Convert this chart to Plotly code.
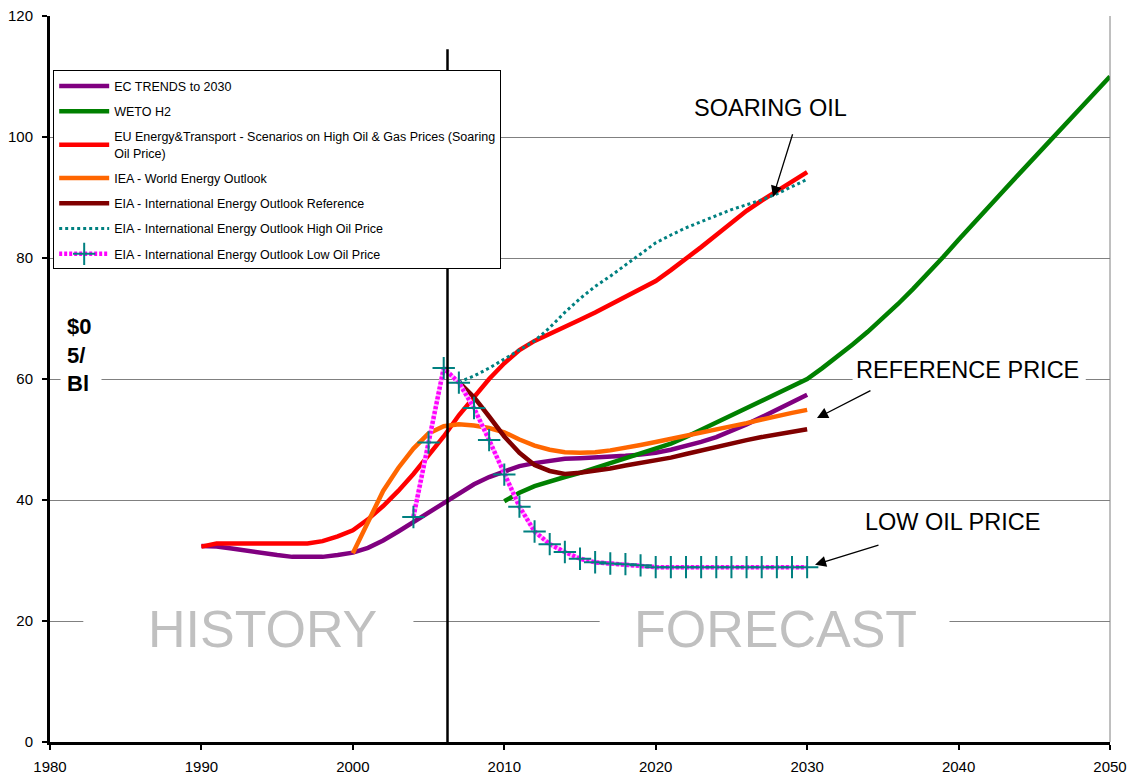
import plotly.graph_objects as go

FONT = "Liberation Sans, Arial, sans-serif"

# ---- series data (US$ 2005 per barrel) ----
ec_years = list(range(1990, 2031))
ec_vals = [32.4, 32.3, 32.0, 31.6, 31.2, 30.9, 30.6, 30.6, 30.6, 30.9,
           31.3, 32.1, 33.3, 34.8, 36.4, 38.0, 39.6, 41.0, 42.6, 43.8,
           44.8, 45.6, 46.1, 46.5, 46.8, 46.9, 47.0, 47.1, 47.3, 47.5,
           47.8, 48.3, 48.9, 49.6, 50.4, 51.4, 52.5, 53.7, 55.0, 56.2, 57.4]

weto_years = list(range(2010, 2051))
weto_vals = [39.8, 41.2, 42.3, 43.1, 43.8, 44.5, 45.3, 46.0, 46.8, 47.6,
             48.4, 49.3, 50.4, 51.6, 52.8, 54.0, 55.2, 56.4, 57.6, 58.7,
             60.0, 61.8, 63.7, 65.7, 67.8, 70.0, 72.4, 74.9, 77.5, 80.2,
             83.0, 85.8, 88.5, 91.2, 93.9, 96.6, 99.3, 102.0, 104.7, 107.4, 110.0]

eu_years = list(range(1990, 2031))
eu_vals = [32.3, 32.8, 32.8, 32.8, 32.8, 32.8, 32.8, 32.8, 33.2, 34.0,
           35.0, 36.8, 39.0, 41.5, 44.3, 47.4, 50.5, 54.0, 57.0, 60.0,
           62.6, 64.8, 66.3, 67.4, 68.6, 69.8, 71.0, 72.3, 73.5, 74.8,
           76.2, 78.0, 79.8, 81.8, 83.8, 85.8, 87.8, 89.5, 91.0, 92.5, 94.2]

iea_years = list(range(2000, 2031))
iea_vals = [31.2, 36.5, 41.5, 45.3, 48.5, 51.0, 52.2, 52.5, 52.3, 51.9,
            51.2, 50.0, 49.0, 48.3, 47.9, 47.8, 47.9, 48.2, 48.6, 49.1,
            49.6, 50.1, 50.6, 51.1, 51.6, 52.2, 52.7, 53.3, 53.9, 54.4, 54.9]

eia_ref_years = list(range(2007, 2031))
eia_ref_vals = [59.5, 57.0, 53.8, 50.5, 47.8, 45.8, 44.8, 44.3, 44.5, 44.8,
                45.2, 45.7, 46.1, 46.5, 47.0, 47.6, 48.2, 48.8, 49.4, 49.9,
                50.4, 50.8, 51.2, 51.7]

eia_high_years = list(range(2007, 2031))
eia_high_vals = [59.5, 60.5, 61.8, 63.3, 64.8, 66.3, 68.5, 71.0, 73.3, 75.3,
                 77.0, 78.8, 80.6, 82.5, 83.8, 85.0, 86.0, 87.0, 88.0, 88.8,
                 89.6, 90.6, 91.8, 93.0]

eia_low_years = list(range(2004, 2031))
eia_low_vals = [37.2, 49.5, 61.8, 59.4, 55.2, 49.9, 44.2, 38.9, 34.8, 32.7,
                31.4, 30.3, 29.7, 29.5, 29.4, 29.2, 28.9, 28.9, 28.9, 28.9,
                28.9, 28.9, 28.9, 28.9, 28.9, 28.9, 28.9]

x_ticks = [1980, 1990, 2000, 2010, 2020, 2030, 2040, 2050]
y_ticks = [0, 20, 40, 60, 80, 100, 120]

fig = go.Figure()

def add_line(x, y, name, color, width=4.5, dash="solid", group=None):
    fig.add_trace(go.Scatter(
        x=x, y=y, name=name, mode="lines",
        line=dict(color=color, width=width, dash=dash),
        legendgroup=group or name,
    ))

add_line(ec_years, ec_vals, "EC TRENDS to 2030", "#800080")
add_line(weto_years, weto_vals, "WETO H2", "#008000")
add_line(eu_years, eu_vals,
         "EU Energy&Transport - Scenarios on High Oil & Gas Prices (Soaring<br>Oil Price)",
         "#FF0000")
add_line(iea_years, iea_vals, "IEA - World Energy Outlook", "#FF6600")
add_line(eia_ref_years, eia_ref_vals, "EIA - International Energy Outlook Reference", "#800000")
add_line(eia_high_years, eia_high_vals, "EIA - International Energy Outlook High Oil Price",
         "#008080", width=3, dash="3px,3px")

# low-price case: pale pink underlay + magenta dashes + teal crosses
fig.add_trace(go.Scatter(
    x=eia_low_years, y=eia_low_vals, mode="lines", showlegend=False,
    line=dict(color="#FFB8FF", width=4.5), hoverinfo="skip",
    legendgroup="low",
))
fig.add_trace(go.Scatter(
    x=eia_low_years, y=eia_low_vals, mode="lines+markers",
    name="EIA - International Energy Outlook Low Oil Price",
    line=dict(color="#FF00FF", width=4.5, dash="3px,2px"),
    marker=dict(symbol="cross-thin", size=16, color="#008080",
                line=dict(color="#008080", width=2)),
    legendgroup="low",
))

shapes = [
    # history / forecast divider
    dict(type="line", xref="x", yref="y", x0=2006.25, x1=2006.25, y0=0, y1=114.5,
         line=dict(color="black", width=2.5), layer="above"),
    # right frame edge
    dict(type="line", xref="paper", yref="paper", x0=1, x1=1, y0=0, y1=1,
         line=dict(color="#808080", width=1), layer="above"),
]
# white boxes behind the text labels (hide the gridlines there)
for x0, x1, y0, y1 in [(1982.2, 2004.0, 18, 22), (2016.3, 2039.4, 18, 22),
                       (1980.7, 1983.4, 59, 61), (2033.0, 2048.4, 59, 61)]:
    shapes.append(dict(type="rect", xref="x", yref="y", x0=x0, x1=x1, y0=y0, y1=y1,
                       fillcolor="white", line=dict(width=0), layer="between"))

annotations = [
    dict(x=2027.6, y=104.8, text="SOARING OIL", showarrow=False,
         font=dict(size=23.5, color="black", family=FONT)),
    dict(x=2040.6, y=61.5, text="REFERENCE PRICE", showarrow=False,
         font=dict(size=23.5, color="black", family=FONT)),
    dict(x=2039.6, y=36.3, text="LOW OIL PRICE", showarrow=False,
         font=dict(size=23.5, color="black", family=FONT)),
    dict(x=1994.0, y=18.6, text="HISTORY", showarrow=False,
         font=dict(size=52, color="#C0C0C0", family=FONT)),
    dict(x=2027.9, y=18.6, text="FORECAST", showarrow=False,
         font=dict(size=52, color="#C0C0C0", family=FONT)),
    dict(x=1981.0, y=64.0, text="<b>$0<br>5/<br>Bl</b>", showarrow=False,
         xanchor="left", align="left",
         font=dict(size=22, color="black", family=FONT)),
]
# pointer arrows
for tail, head in [((2029.07, 100.7), (2027.75, 90.1)),
                   ((2034.28, 58.2), (2030.65, 53.55)),
                   ((2034.81, 32.6), (2030.52, 29.3))]:
    annotations.append(dict(
        x=head[0], y=head[1], ax=tail[0], ay=tail[1],
        xref="x", yref="y", axref="x", ayref="y", text="",
        showarrow=True, arrowhead=2, arrowsize=1.7, arrowwidth=1.3,
        arrowcolor="black", standoff=0,
    ))

fig.update_layout(
    width=1132, height=776,
    margin=dict(l=50, r=22, t=16, b=34, autoexpand=False),
    paper_bgcolor="white", plot_bgcolor="white",
    font=dict(family=FONT, color="black"),
    showlegend=True,
    legend=dict(
        x=0.003, y=0.925, xanchor="left", yanchor="top",
        bgcolor="white", bordercolor="black", borderwidth=1,
        font=dict(size=12.5, color="black", family=FONT),
        traceorder="grouped", tracegroupgap=6,
        itemwidth=50,
    ),
    shapes=shapes,
    annotations=annotations,
)
fig.update_xaxes(
    range=[1980, 2050], tickvals=x_ticks, ticktext=[str(v) for v in x_ticks],
    showgrid=False, zeroline=False, automargin=False,
    showline=True, linecolor="black", linewidth=3,
    ticks="outside", ticklen=5, tickcolor="black", tickwidth=2,
    ticklabelstandoff=4,
    tickfont=dict(size=15, color="black", family=FONT),
)
fig.update_yaxes(
    range=[0, 120], tickvals=y_ticks,
    showgrid=True, gridcolor="#808080", gridwidth=1, zeroline=False, automargin=False,
    showline=True, linecolor="black", linewidth=3,
    ticks="outside", ticklen=5, tickcolor="black", tickwidth=2,
    ticklabelstandoff=6,
    tickfont=dict(size=15, color="black", family=FONT),
)

fig.write_html("out.html")
